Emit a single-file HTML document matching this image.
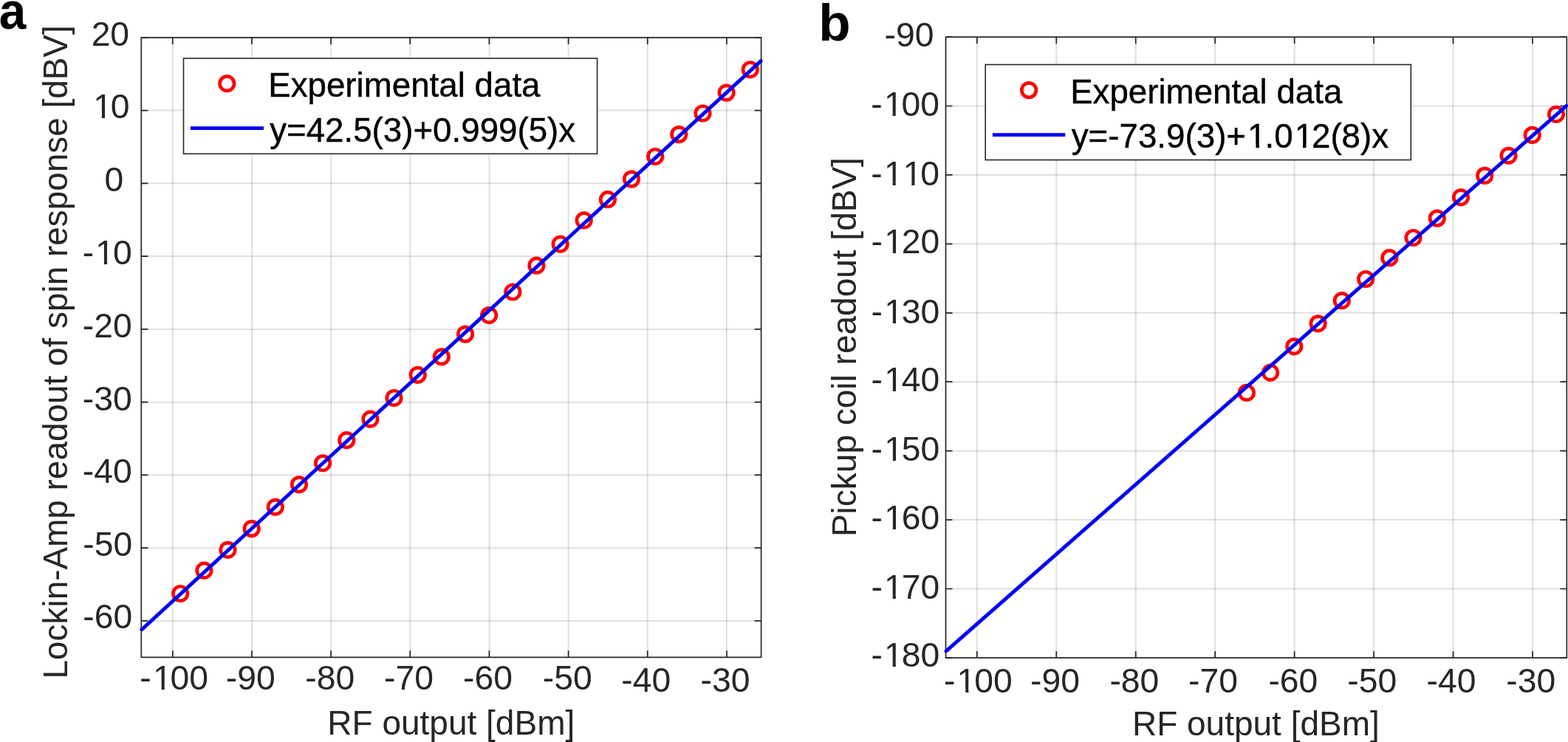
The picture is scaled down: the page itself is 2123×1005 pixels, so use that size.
<!DOCTYPE html>
<html><head><meta charset="utf-8"><title>Figure</title><style>
html,body{margin:0;padding:0;background:#fff;}
body{width:2123px;height:1005px;overflow:hidden;}
svg{display:block;}
text{font-family:"Liberation Sans",Arial,Helvetica,sans-serif;font-kerning:none;}
.tl{font-size:46.3px;fill:#262626;}
.al{font-size:46px;fill:#262626;}
.lt{font-size:45.7px;fill:#000;stroke:#000;stroke-width:0.4px;}
.pl{font-size:71px;font-weight:bold;fill:#000;}
.gr{fill:none;stroke:#262626;stroke-opacity:0.15;stroke-width:2;}
.ax{fill:none;stroke:#262626;stroke-width:1.7;}
.tk{fill:none;stroke:#262626;stroke-width:1.7;}
.lg{fill:#fff;stroke:#262626;stroke-width:1.6;}
.mk circle,.mk1{fill:none;stroke:#f00;stroke-width:4.7;}
.fit{stroke:#0000f5;stroke-width:4.9;stroke-linecap:round;}
.fitl{stroke:#0000f5;stroke-width:4.8;}
</style></head>
<body>
<svg width="2123" height="1005" viewBox="0 0 2123 1005">
<rect width="2123" height="1005" fill="#fff"/>
<path d="M233.80 50.9V890.3M340.96 50.9V890.3M448.12 50.9V890.3M555.28 50.9V890.3M662.44 50.9V890.3M769.60 50.9V890.3M876.76 50.9V890.3M983.92 50.9V890.3" class="gr"/>
<path d="M191.3 840.92H1030.6M191.3 742.16H1030.6M191.3 643.40H1030.6M191.3 544.64H1030.6M191.3 445.88H1030.6M191.3 347.12H1030.6M191.3 248.36H1030.6M191.3 149.60H1030.6M191.3 50.84H1030.6" class="gr"/>
<path d="M233.80 890.3v-9M233.80 50.9v9M340.96 890.3v-9M340.96 50.9v9M448.12 890.3v-9M448.12 50.9v9M555.28 890.3v-9M555.28 50.9v9M662.44 890.3v-9M662.44 50.9v9M769.60 890.3v-9M769.60 50.9v9M876.76 890.3v-9M876.76 50.9v9M983.92 890.3v-9M983.92 50.9v9M191.3 840.92h9M1030.6 840.92h-9M191.3 742.16h9M1030.6 742.16h-9M191.3 643.40h9M1030.6 643.40h-9M191.3 544.64h9M1030.6 544.64h-9M191.3 445.88h9M1030.6 445.88h-9M191.3 347.12h9M1030.6 347.12h-9M191.3 248.36h9M1030.6 248.36h-9M191.3 149.60h9M1030.6 149.60h-9M191.3 50.84h9M1030.6 50.84h-9" class="tk"/>
<rect x="191.3" y="50.9" width="839.30" height="839.40" class="ax"/>
<g class="mk"><circle cx="244.2" cy="804.0" r="9.75"/><circle cx="276.4" cy="772.7" r="9.75"/><circle cx="308.5" cy="744.8" r="9.75"/><circle cx="340.7" cy="716.1" r="9.75"/><circle cx="372.8" cy="686.8" r="9.75"/><circle cx="405.0" cy="656.3" r="9.75"/><circle cx="437.1" cy="627.3" r="9.75"/><circle cx="469.3" cy="596.2" r="9.75"/><circle cx="501.4" cy="567.7" r="9.75"/><circle cx="533.5" cy="539.0" r="9.75"/><circle cx="565.7" cy="507.8" r="9.75"/><circle cx="597.8" cy="483.3" r="9.75"/><circle cx="630.0" cy="452.6" r="9.75"/><circle cx="662.1" cy="427.0" r="9.75"/><circle cx="694.3" cy="395.5" r="9.75"/><circle cx="726.4" cy="359.7" r="9.75"/><circle cx="758.6" cy="330.7" r="9.75"/><circle cx="790.7" cy="298.4" r="9.75"/><circle cx="822.9" cy="270.2" r="9.75"/><circle cx="855.0" cy="242.6" r="9.75"/><circle cx="887.2" cy="212.0" r="9.75"/><circle cx="919.3" cy="182.1" r="9.75"/><circle cx="951.5" cy="153.5" r="9.75"/><circle cx="983.6" cy="125.6" r="9.75"/><circle cx="1015.8" cy="94.3" r="9.75"/></g>
<line x1="191.9" y1="852.7" x2="1030.1999999999998" y2="82.6" class="fit"/>
<path d="M1322.80 50.2V890.9M1430.26 50.2V890.9M1537.72 50.2V890.9M1645.18 50.2V890.9M1752.64 50.2V890.9M1860.10 50.2V890.9M1967.56 50.2V890.9M2075.02 50.2V890.9" class="gr"/>
<path d="M1280.5 890.94H2121.3M1280.5 797.51H2121.3M1280.5 704.08H2121.3M1280.5 610.65H2121.3M1280.5 517.22H2121.3M1280.5 423.79H2121.3M1280.5 330.36H2121.3M1280.5 236.93H2121.3M1280.5 143.50H2121.3M1280.5 50.07H2121.3" class="gr"/>
<path d="M1322.80 890.9v-9M1322.80 50.2v9M1430.26 890.9v-9M1430.26 50.2v9M1537.72 890.9v-9M1537.72 50.2v9M1645.18 890.9v-9M1645.18 50.2v9M1752.64 890.9v-9M1752.64 50.2v9M1860.10 890.9v-9M1860.10 50.2v9M1967.56 890.9v-9M1967.56 50.2v9M2075.02 890.9v-9M2075.02 50.2v9M1280.5 890.94h9M2121.3 890.94h-9M1280.5 797.51h9M2121.3 797.51h-9M1280.5 704.08h9M2121.3 704.08h-9M1280.5 610.65h9M2121.3 610.65h-9M1280.5 517.22h9M2121.3 517.22h-9M1280.5 423.79h9M2121.3 423.79h-9M1280.5 330.36h9M2121.3 330.36h-9M1280.5 236.93h9M2121.3 236.93h-9M1280.5 143.50h9M2121.3 143.50h-9M1280.5 50.07h9M2121.3 50.07h-9" class="tk"/>
<rect x="1280.5" y="50.2" width="840.80" height="840.70" class="ax"/>
<g class="mk"><circle cx="1687.9" cy="531.9" r="9.75"/><circle cx="1720.1" cy="504.7" r="9.75"/><circle cx="1752.3" cy="469.3" r="9.75"/><circle cx="1784.6" cy="438.3" r="9.75"/><circle cx="1816.8" cy="407.2" r="9.75"/><circle cx="1849.1" cy="378.0" r="9.75"/><circle cx="1881.3" cy="349.2" r="9.75"/><circle cx="1913.5" cy="322.0" r="9.75"/><circle cx="1945.8" cy="295.6" r="9.75"/><circle cx="1978.0" cy="267.3" r="9.75"/><circle cx="2010.2" cy="237.9" r="9.75"/><circle cx="2042.5" cy="210.8" r="9.75"/><circle cx="2074.7" cy="182.9" r="9.75"/><circle cx="2107.0" cy="154.8" r="9.75"/></g>
<line x1="1281.0" y1="881.9" x2="2120.9" y2="143.3" class="fit"/>
<text x="123.64" y="61.59" class="tl">20</text>
<text x="124.08" y="160.14" dx="2.1 -2.1" class="tl">10</text>
<text x="141.55" y="259.29" class="tl">0</text>
<text x="111.72" y="358.14" dx="0 2.1 -2.1" class="tl">-10</text>
<text x="111.72" y="456.94" class="tl">-20</text>
<text x="111.72" y="555.54" class="tl">-30</text>
<text x="111.72" y="653.54" class="tl">-40</text>
<text x="112.27" y="752.99" class="tl">-50</text>
<text x="112.27" y="851.39" class="tl">-60</text>
<text x="1197.62" y="63.19" class="tl">-90</text>
<text x="1179.37" y="157.14" dx="0 2.1 -2.1" class="tl">-100</text>
<text x="1179.37" y="250.54" dx="0 2.1 0 -2.1" class="tl">-110</text>
<text x="1179.62" y="343.24" dx="0 2.1 -2.1" class="tl">-120</text>
<text x="1179.62" y="437.64" dx="0 2.1 -2.1" class="tl">-130</text>
<text x="1179.62" y="530.04" dx="0 2.1 -2.1" class="tl">-140</text>
<text x="1179.62" y="623.94" dx="0 2.1 -2.1" class="tl">-150</text>
<text x="1179.62" y="717.39" dx="0 2.1 -2.1" class="tl">-160</text>
<text x="1179.47" y="810.54" dx="0 2.1 -2.1" class="tl">-170</text>
<text x="1179.47" y="903.14" dx="0 2.1 -2.1" class="tl">-180</text>
<text x="189.37" y="934.34" dx="0 2.1 -2.1" class="tl">-100</text>
<text x="305.82" y="934.34" class="tl">-90</text>
<text x="413.22" y="934.34" class="tl">-80</text>
<text x="520.02" y="934.34" class="tl">-70</text>
<text x="627.02" y="934.34" class="tl">-60</text>
<text x="734.72" y="934.34" class="tl">-50</text>
<text x="841.32" y="936.54" class="tl">-40</text>
<text x="948.62" y="936.54" class="tl">-30</text>
<text x="1278.07" y="938.04" dx="0 2.1 -2.1" class="tl">-100</text>
<text x="1395.07" y="938.04" class="tl">-90</text>
<text x="1502.42" y="938.04" class="tl">-80</text>
<text x="1609.12" y="938.04" class="tl">-70</text>
<text x="1717.42" y="938.04" class="tl">-60</text>
<text x="1824.22" y="938.04" class="tl">-50</text>
<text x="1931.62" y="938.04" class="tl">-40</text>
<text x="2039.32" y="938.04" class="tl">-30</text>
<text x="443.32" y="995.0" class="al">RF output [dBm]</text>
<text x="1532.92" y="995.9" class="al">RF output [dBm]</text>
<text class="al" style="font-size:45.9px" transform="translate(91.4 919.47) rotate(-90)">Lockin-Amp readout of spin response [dBV]</text>
<text class="al" transform="translate(1158.8 727.08) rotate(-90)">Pickup coil readout [dBV]</text>
<rect x="248.5" y="79.0" width="560.10" height="129.30" class="lg"/>
<circle cx="307.3" cy="113.2" r="9.75" class="mk1"/>
<line x1="257.9" y1="173.7" x2="357.0" y2="173.7" class="fitl"/>
<text x="363.24" y="130.9" class="lt">Experimental data</text>
<text x="365.17" y="191.90" class="lt">y=42.5(3)+0.999(5)x</text>
<rect x="1334.2" y="87.5" width="576.10" height="129.10" class="lg"/>
<circle cx="1393.1" cy="122.1" r="9.75" class="mk1"/>
<line x1="1343.9" y1="182.7" x2="1442.3" y2="182.7" class="fitl"/>
<text x="1449.14" y="139.7" class="lt">Experimental data</text>
<text x="1450.77" y="200.40" dx="0 0 0 0 0 0 0 0 0 0 0 2.07 -2.07 0 2.07 -2.07" class="lt">y=-73.9(3)+1.012(8)x</text>
<g fill="#fff"><rect x="128.80" y="155.18" width="9.07" height="6.66"/><rect x="142.03" y="155.18" width="8.53" height="6.66"/><rect x="131.86" y="353.18" width="9.07" height="6.66"/><rect x="145.09" y="353.18" width="8.53" height="6.66"/><rect x="1199.51" y="152.18" width="9.07" height="6.66"/><rect x="1212.74" y="152.18" width="8.53" height="6.66"/><rect x="1199.51" y="245.58" width="9.07" height="6.66"/><rect x="1212.74" y="245.58" width="8.53" height="6.66"/><rect x="1225.26" y="245.58" width="9.07" height="6.66"/><rect x="1238.49" y="245.58" width="8.53" height="6.66"/><rect x="1199.76" y="338.28" width="9.07" height="6.66"/><rect x="1212.99" y="338.28" width="8.53" height="6.66"/><rect x="1199.76" y="432.68" width="9.07" height="6.66"/><rect x="1212.99" y="432.68" width="8.53" height="6.66"/><rect x="1199.76" y="525.08" width="9.07" height="6.66"/><rect x="1212.99" y="525.08" width="8.53" height="6.66"/><rect x="1199.76" y="618.98" width="9.07" height="6.66"/><rect x="1212.99" y="618.98" width="8.53" height="6.66"/><rect x="1199.76" y="712.43" width="9.07" height="6.66"/><rect x="1212.99" y="712.43" width="8.53" height="6.66"/><rect x="1199.61" y="805.58" width="9.07" height="6.66"/><rect x="1212.84" y="805.58" width="8.53" height="6.66"/><rect x="1199.61" y="898.18" width="9.07" height="6.66"/><rect x="1212.84" y="898.18" width="8.53" height="6.66"/><rect x="209.51" y="929.38" width="9.07" height="6.66"/><rect x="222.74" y="929.38" width="8.53" height="6.66"/><rect x="1298.21" y="933.08" width="9.07" height="6.66"/><rect x="1311.44" y="933.08" width="8.53" height="6.66"/><rect x="1691.47" y="195.29" width="8.96" height="7.01"/><rect x="1704.94" y="195.29" width="8.43" height="7.01"/><rect x="1755.00" y="195.29" width="8.96" height="7.01"/><rect x="1768.47" y="195.29" width="8.43" height="7.01"/></g>
<text class="pl" transform="translate(-1.3 38.6) scale(0.925 1)">a</text>
<text x="1108.29" y="55.0" class="pl">b</text>
</svg>
</body></html>
